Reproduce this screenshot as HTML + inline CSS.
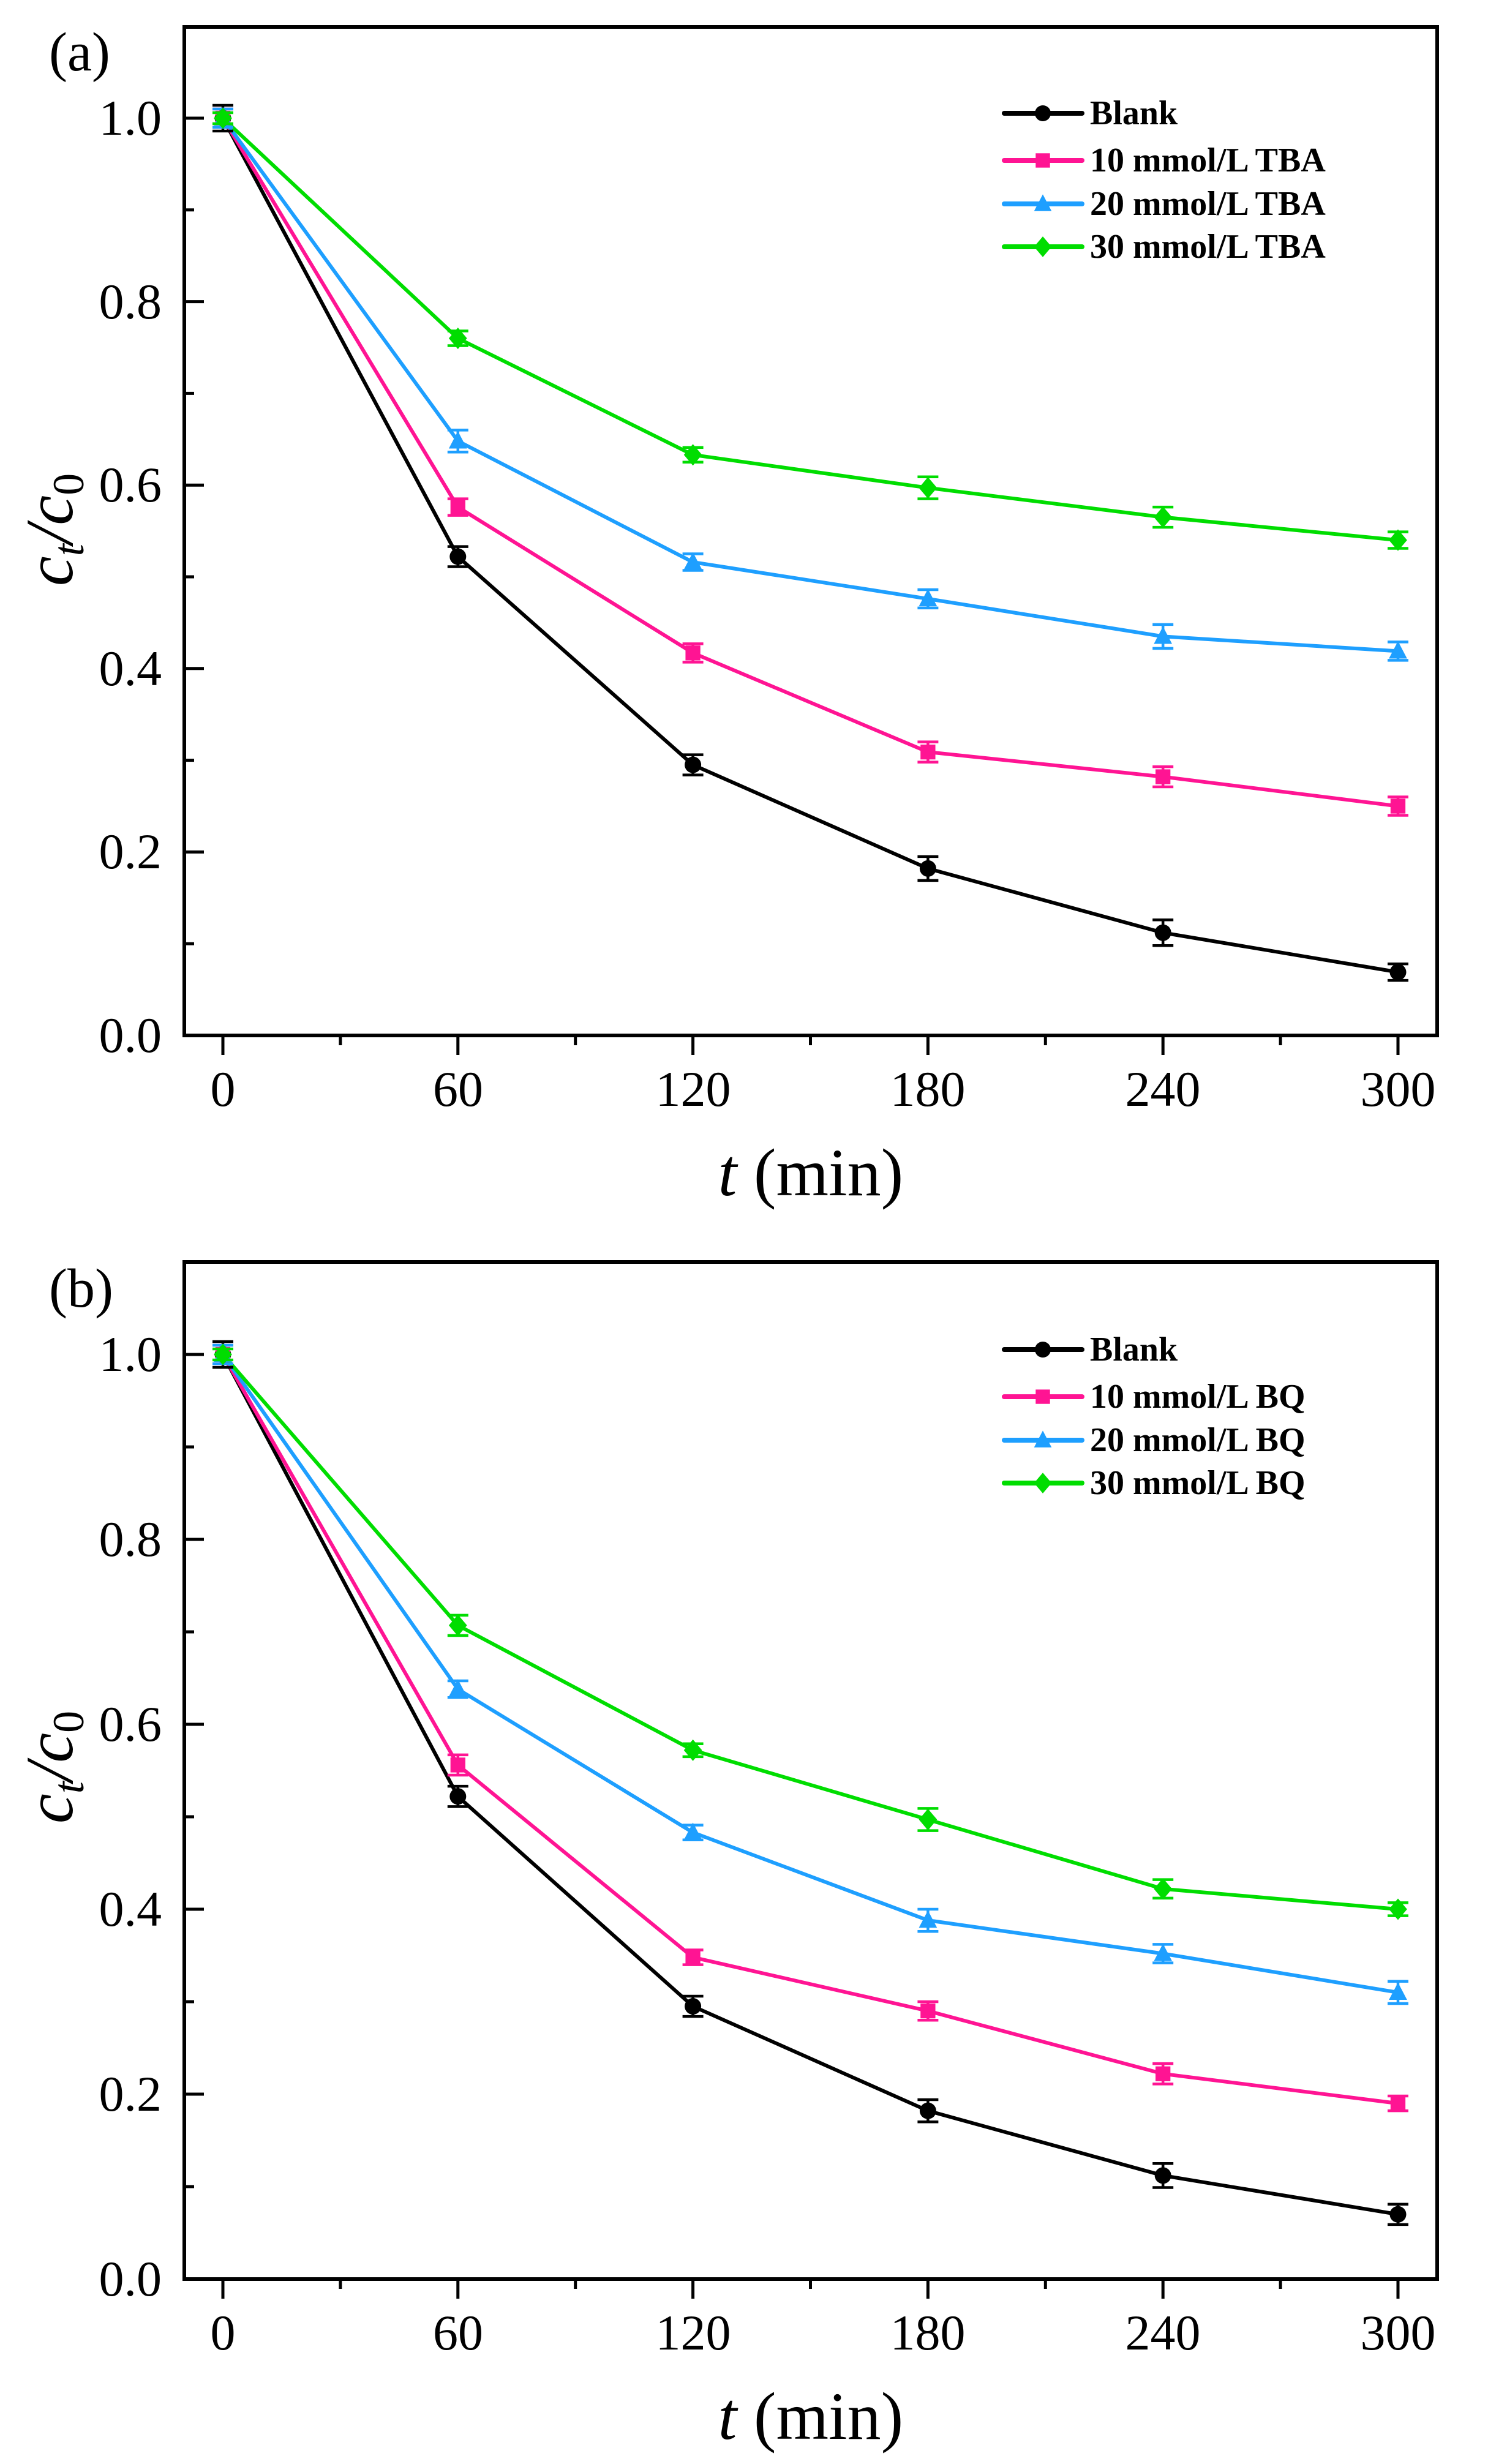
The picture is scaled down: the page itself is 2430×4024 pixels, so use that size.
<!DOCTYPE html>
<html><head><meta charset="utf-8">
<style>
html,body{margin:0;padding:0;background:#fff}
svg{display:block}
text{font-family:"Liberation Serif","Times New Roman",serif;fill:#000}
.tk{font-size:82px}
.lg{font-size:56px;font-weight:bold}
</style></head>
<body>
<svg id="s" width="2430" height="4024" viewBox="0 0 2430 4024" xmlns="http://www.w3.org/2000/svg">
<g id="pa">
<text x="80" y="115" style="font-size:90px">(a)</text>
<g class="tk" text-anchor="end">
<text x="264" y="220">1.0</text><text x="264" y="520">0.8</text><text x="264" y="819">0.6</text><text x="264" y="1119">0.4</text><text x="264" y="1418">0.2</text><text x="264" y="1718">0.0</text>
</g>
<g class="tk" text-anchor="middle">
<text x="364" y="1806">0</text><text x="748" y="1806">60</text><text x="1132" y="1806">120</text><text x="1515" y="1806">180</text><text x="1899" y="1806">240</text><text x="2283" y="1806">300</text>
</g>
<text x="1324" y="1952" text-anchor="middle" style="font-size:110px"><tspan font-style="italic">t</tspan> (min)</text>
<text transform="translate(118,865) rotate(-90)" text-anchor="middle" style="font-size:110px;font-style:italic">c<tspan dy="18" style="font-size:72px">t</tspan><tspan dy="-18">/c</tspan><tspan dy="18" style="font-size:72px;font-style:normal">0</tspan></text>
<g class="lg">
<text x="1780" y="203">Blank</text><text x="1780" y="280">10 mmol/L TBA</text><text x="1780" y="351">20 mmol/L TBA</text><text x="1780" y="421">30 mmol/L TBA</text>
</g>
</g>
<g id="pb">
<text x="80" y="2134" style="font-size:90px">(b)</text>
<g class="tk" text-anchor="end">
<text x="264" y="2239">1.0</text><text x="264" y="2541">0.8</text><text x="264" y="2843">0.6</text><text x="264" y="3145">0.4</text><text x="264" y="3447">0.2</text><text x="264" y="3749">0.0</text>
</g>
<g class="tk" text-anchor="middle">
<text x="364" y="3837">0</text><text x="748" y="3837">60</text><text x="1132" y="3837">120</text><text x="1515" y="3837">180</text><text x="1899" y="3837">240</text><text x="2283" y="3837">300</text>
</g>
<text x="1324" y="3983" text-anchor="middle" style="font-size:110px"><tspan font-style="italic">t</tspan> (min)</text>
<text transform="translate(118,2886) rotate(-90)" text-anchor="middle" style="font-size:110px;font-style:italic">c<tspan dy="18" style="font-size:72px">t</tspan><tspan dy="-18">/c</tspan><tspan dy="18" style="font-size:72px;font-style:normal">0</tspan></text>
<g class="lg">
<text x="1780" y="2222">Blank</text><text x="1780" y="2299">10 mmol/L BQ</text><text x="1780" y="2370">20 mmol/L BQ</text><text x="1780" y="2440">30 mmol/L BQ</text>
</g>
</g>
<g id="dyn"></g>
</svg>
<script>
(function(){
var NS="http://www.w3.org/2000/svg",g=document.getElementById("dyn");
function el(n,a){var e=document.createElementNS(NS,n);for(var k in a)e.setAttribute(k,a[k]);g.appendChild(e);return e;}
var cols=["#000000","#ff1493","#1e9fff","#00dd00"];
function marker(i,x,y,s){
 if(i==0)el("circle",{cx:x,cy:y,r:s*0.5,fill:cols[0]});
 else if(i==1)el("rect",{x:x-s*0.45,y:y-s*0.45,width:s*0.9,height:s*0.9,fill:cols[1]});
 else if(i==2)el("polygon",{points:(x)+","+(y-s*0.6)+" "+(x+s*0.55)+","+(y+s*0.45)+" "+(x-s*0.55)+","+(y+s*0.45),fill:cols[2]});
 else el("polygon",{points:x+","+(y-s*0.65)+" "+(x+s*0.55)+","+y+" "+x+","+(y+s*0.65)+" "+(x-s*0.55)+","+y,fill:cols[3]});
}
function panel(top,y1,y0,data,err,legY){
 var L=301,R=2347,B=y0;
 function X(t){return 364+t*(2283-364)/300;}
 function Y(v){return y0+(y1-y0)*v;}
 for(var v=0;v<=1.0001;v+=0.1){var yy=Y(v);var maj=Math.round(v*10)%2==0;el("line",{x1:L,x2:L+(maj?32:16),y1:yy,y2:yy,stroke:"#000","stroke-width":5});}
 for(var t=0;t<=300;t+=30){var xx=X(t);var maj=t%60==0;el("line",{x1:xx,x2:xx,y1:B,y2:B+(maj?32:16),stroke:"#000","stroke-width":5});}
 el("rect",{x:L,y:top,width:R-L,height:B-top,fill:"none",stroke:"#000","stroke-width":6});
 var ts=[0,60,120,180,240,300];
 for(var i=0;i<4;i++){
  var pts=ts.map(function(t,j){return X(t)+","+Y(data[i][j]);}).join(" ");
  el("polyline",{points:pts,fill:"none",stroke:cols[i],"stroke-width":6,"stroke-linejoin":"round"});
 }
 for(var i=0;i<4;i++){
  for(var j=0;j<6;j++){
   var x=X(ts[j]),y=Y(data[i][j]),e=err[i][j]*(y0-y1);
   var c=cols[i];
   el("line",{x1:x,x2:x,y1:y-e,y2:y+e,stroke:c,"stroke-width":4.5});
   el("line",{x1:x-17,x2:x+17,y1:y-e,y2:y-e,stroke:c,"stroke-width":4.5});
   el("line",{x1:x-17,x2:x+17,y1:y+e,y2:y+e,stroke:c,"stroke-width":4.5});
   marker(i,x,y,27);
  }
 }
 for(var i=0;i<4;i++){var ly=legY[i];
  el("line",{x1:1640,x2:1767,y1:ly,y2:ly,stroke:cols[i],"stroke-width":8,"stroke-linecap":"round"});
  marker(i,1703,ly,26);
 }
}
var ea=[[.014,.011,.011,.013,.014,.009],[.01,.009,.01,.011,.011,.01],[.01,.012,.009,.01,.013,.01],[.006,.008,.008,.012,.011,.009]];
panel(44,193,1691,
 [[1,.522,.295,.182,.112,.069],[1,.576,.417,.309,.282,.250],[1,.648,.516,.476,.435,.419],[1,.760,.633,.597,.565,.540]],ea,[185,262,333,403]);
panel(2061,2212,3722,
 [[1,.522,.295,.182,.112,.070],[1,.556,.348,.290,.222,.190],[1,.638,.483,.388,.352,.310],[1,.707,.572,.497,.422,.400]],
 [[.014,.011,.011,.012,.013,.011],[.01,.011,.008,.01,.011,.008],[.01,.009,.008,.012,.01,.012],[.006,.011,.007,.012,.01,.007]],[2204,2281,2352,2422]);
})();
</script>
</body></html>
